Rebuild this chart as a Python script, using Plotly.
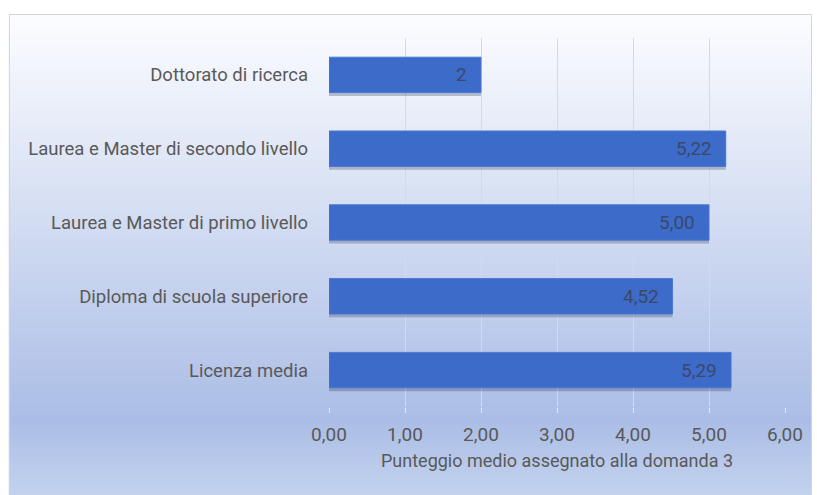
import plotly.graph_objects as go

# Titoli di studio (dal basso verso l'alto) e punteggio medio
categorie = [
    "Licenza media",
    "Diploma di scuola superiore",
    "Laurea e Master di primo livello",
    "Laurea e Master di secondo livello",
    "Dottorato di ricerca",
]
punteggi = [5.29, 4.52, 5.00, 5.22, 2]
etichette = ["5,29", "4,52", "5,00", "5,22", "2"]
tick_valori = [0, 1, 2, 3, 4, 5, 6]
titolo_asse = "Punteggio medio assegnato alla domanda 3"

FONT = "Roboto"
W, H = 817, 495
L, R, T, B = 328.5, 785.0, 38.0, 407.0


def px_x(px):
    return (px - L) / (R - L)


def px_y(py):
    return (B - py) / (B - T)


def mix(c1, c2, t):
    return "rgb(%d,%d,%d)" % tuple(round(a + (b - a) * t) for a, b in zip(c1, c2))


# Sfondo con sfumatura verticale (bianco in alto, azzurro in basso)
shapes = []
top, bottom = 14, 495
c_top = (252, 253, 255)
c_mid = (171, 189, 230)
c_bot = (194, 210, 238)
step = 3
y = top
while y < bottom:
    y2 = min(y + step, bottom)
    yc = (y + y2) / 2
    if yc < 420:
        col = mix(c_top, c_mid, (yc - top) / (420 - top))
    else:
        col = mix(c_mid, c_bot, (yc - 420) / (bottom - 420))
    shapes.append(dict(
        type="rect", xref="paper", yref="paper", layer="below",
        x0=px_x(8), x1=px_x(812), y0=px_y(y2 + 0.5), y1=px_y(y),
        fillcolor=col, line=dict(width=0),
    ))
    y = y2
# Cornice del grafico
shapes.append(dict(
    type="rect", xref="paper", yref="paper", layer="below",
    x0=px_x(8.5), x1=px_x(811.5), y0=px_y(500), y1=px_y(14.5),
    fillcolor="rgba(0,0,0,0)", line=dict(color="#d4d4d4", width=1),
))

# Ombra delle barre
ombra = go.Bar(
    y=categorie, x=punteggi, orientation="h",
    marker=dict(color="rgba(40,50,80,0.28)", line=dict(width=0)),
    width=0.5, offset=-0.25 - 0.035,
    hoverinfo="skip", showlegend=False,
)

barre = go.Bar(
    y=categorie, x=punteggi, orientation="h",
    marker=dict(color="#3d6bc9", line=dict(color="#4a78d2", width=1)),
    width=0.48, offset=-0.24,
    showlegend=False,
)

# Etichette dei valori, allineate a destra dentro la barra
annotazioni = [
    dict(x=v, y=c, xref="x", yref="y", text=t, showarrow=False,
         xanchor="right", yanchor="middle", xshift=-12,
         font=dict(family=FONT, size=19, color="#3b4868"))
    for c, v, t in zip(categorie, punteggi, etichette)
]

fig = go.Figure([ombra, barre])
fig.update_layout(
    width=W, height=H,
    margin=dict(l=L, r=W - R, t=T, b=H - B, pad=0),
    paper_bgcolor="white", plot_bgcolor="rgba(0,0,0,0)",
    separators=",.",
    barmode="overlay",
    shapes=shapes,
    annotations=annotazioni,
    font=dict(family=FONT, size=18.5, color="#595959"),
    xaxis=dict(
        range=[0, 6], tickvals=tick_valori, tickformat=".2f",
        showgrid=True, gridcolor="#d9d9d9", gridwidth=1,
        zeroline=False, showline=False,
        ticks="outside", ticklen=5, tickcolor="#e4e9f4", tickwidth=1,
        ticklabelstandoff=5,
        tickfont=dict(size=19, color="#595959"),
        title=dict(text=titolo_asse, font=dict(size=18, color="#595959"), standoff=9),
        fixedrange=True,
    ),
    yaxis=dict(
        categoryorder="array", categoryarray=categorie,
        showgrid=False, zeroline=False, showline=False, ticks="",
        ticklabelstandoff=20,
        tickfont=dict(size=18.5, color="#595959"),
        fixedrange=True,
    ),
)
fig.write_html("out.html")
